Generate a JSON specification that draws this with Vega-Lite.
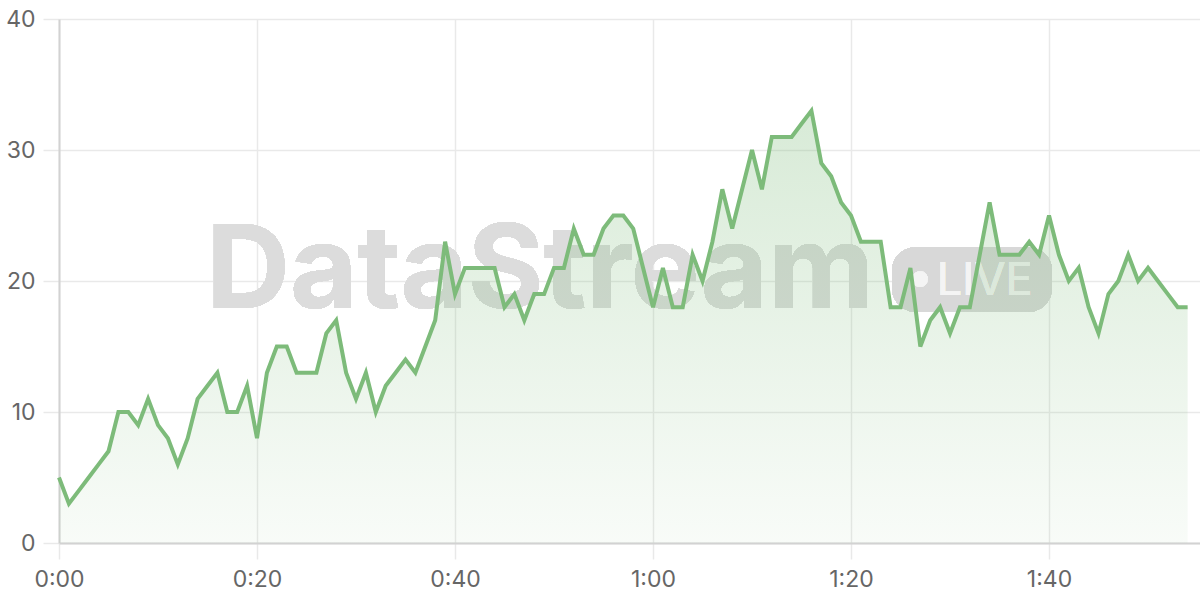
{
  "$schema": "https://vega.github.io/schema/vega-lite/v6.json",
  "width": 1141,
  "height": 524,
  "autosize": "none",
  "padding": {"left": 59, "top": 19, "right": 0, "bottom": 57},
  "background": "#ffffff",
  "config": {
    "view": {"stroke": null},
    "axis": {
      "labelFont": "Inter",
      "labelFontSize": 23,
      "labelColor": "#666666",
      "gridColor": "#e9e9e9",
      "gridWidth": 1.5,
      "tickColor": "#e9e9e9",
      "tickWidth": 1.5,
      "tickSize": 16,
      "domainColor": "#d2d2d2",
      "domainWidth": 2,
      "labelFlush": false,
      "title": null
    }
  },
  "data": {
    "values": [
      {"t":0,"v":5},{"t":1,"v":3},{"t":2,"v":4},{"t":3,"v":5},{"t":4,"v":6},{"t":5,"v":7},{"t":6,"v":10},{"t":7,"v":10},{"t":8,"v":9},{"t":9,"v":11},
      {"t":10,"v":9},{"t":11,"v":8},{"t":12,"v":6},{"t":13,"v":8},{"t":14,"v":11},{"t":15,"v":12},{"t":16,"v":13},{"t":17,"v":10},{"t":18,"v":10},{"t":19,"v":12},
      {"t":20,"v":8},{"t":21,"v":13},{"t":22,"v":15},{"t":23,"v":15},{"t":24,"v":13},{"t":25,"v":13},{"t":26,"v":13},{"t":27,"v":16},{"t":28,"v":17},{"t":29,"v":13},
      {"t":30,"v":11},{"t":31,"v":13},{"t":32,"v":10},{"t":33,"v":12},{"t":34,"v":13},{"t":35,"v":14},{"t":36,"v":13},{"t":37,"v":15},{"t":38,"v":17},{"t":39,"v":23},
      {"t":40,"v":19},{"t":41,"v":21},{"t":42,"v":21},{"t":43,"v":21},{"t":44,"v":21},{"t":45,"v":18},{"t":46,"v":19},{"t":47,"v":17},{"t":48,"v":19},{"t":49,"v":19},
      {"t":50,"v":21},{"t":51,"v":21},{"t":52,"v":24},{"t":53,"v":22},{"t":54,"v":22},{"t":55,"v":24},{"t":56,"v":25},{"t":57,"v":25},{"t":58,"v":24},{"t":59,"v":21},
      {"t":60,"v":18},{"t":61,"v":21},{"t":62,"v":18},{"t":63,"v":18},{"t":64,"v":22},{"t":65,"v":20},{"t":66,"v":23},{"t":67,"v":27},{"t":68,"v":24},{"t":69,"v":27},
      {"t":70,"v":30},{"t":71,"v":27},{"t":72,"v":31},{"t":73,"v":31},{"t":74,"v":31},{"t":75,"v":32},{"t":76,"v":33},{"t":77,"v":29},{"t":78,"v":28},{"t":79,"v":26},
      {"t":80,"v":25},{"t":81,"v":23},{"t":82,"v":23},{"t":83,"v":23},{"t":84,"v":18},{"t":85,"v":18},{"t":86,"v":21},{"t":87,"v":15},{"t":88,"v":17},{"t":89,"v":18},
      {"t":90,"v":16},{"t":91,"v":18},{"t":92,"v":18},{"t":93,"v":22},{"t":94,"v":26},{"t":95,"v":22},{"t":96,"v":22},{"t":97,"v":22},{"t":98,"v":23},{"t":99,"v":22},
      {"t":100,"v":25},{"t":101,"v":22},{"t":102,"v":20},{"t":103,"v":21},{"t":104,"v":18},{"t":105,"v":16},{"t":106,"v":19},{"t":107,"v":20},{"t":108,"v":22},{"t":109,"v":20},
      {"t":110,"v":21},{"t":111,"v":20},{"t":112,"v":19},{"t":113,"v":18},{"t":114,"v":18}
    ]
  },
  "encoding": {
    "x": {
      "field": "t",
      "type": "quantitative",
      "scale": {"domain": [0, 115.25], "nice": false, "zero": false},
      "axis": {
        "values": [0, 20, 40, 60, 80, 100],
        "labelPadding": 9,
        "labelExpr": "floor(datum.value/60) + ':' + (datum.value % 60 < 10 ? '0' : '') + (datum.value % 60)"
      }
    },
    "y": {
      "field": "v",
      "type": "quantitative",
      "scale": {"domain": [0, 40], "nice": false},
      "axis": {"values": [0, 10, 20, 30, 40], "labelPadding": 8, "labelBaseline": "middle"}
    }
  },
  "layer": [
    {
      "mark": {"type": "text", "text": "DataStream", "font": "Inter", "fontWeight": "bold", "fontSize": 116, "align": "center", "baseline": "alphabetic", "color": "#dcdcdc"},
      "encoding": {"x": {"datum": 48.6}, "y": {"datum": 17.94}}
    },
    {
      "mark": {"type": "rect", "color": "#d8d8d8", "cornerRadius": 24},
      "encoding": {"x": {"datum": 84.14}, "x2": {"datum": 100.3}, "y": {"datum": 22.6}, "y2": {"datum": 17.63}}
    },
    {
      "mark": {"type": "point", "filled": true, "color": "#f4f4f4", "strokeWidth": 0, "size": 250},
      "encoding": {"x": {"datum": 86.97}, "y": {"datum": 20.15}}
    },
    {
      "mark": {"type": "text", "text": "LIVE", "font": "Inter", "fontSize": 45, "align": "center", "baseline": "alphabetic", "color": "#f4f4f4"},
      "encoding": {"x": {"datum": 93.5}, "y": {"datum": 18.93}}
    },
    {
      "mark": {
        "type": "area",
        "color": {
          "gradient": "linear",
          "x1": 0, "y1": 0, "x2": 0, "y2": 1,
          "stops": [
            {"offset": 0, "color": "rgba(125,187,122,0.3)"},
            {"offset": 1, "color": "rgba(125,187,122,0.05)"}
          ]
        }
      }
    },
    {
      "mark": {"type": "line", "color": "#7dbb7a", "strokeWidth": 4, "strokeJoin": "miter"}
    }
  ]
}
